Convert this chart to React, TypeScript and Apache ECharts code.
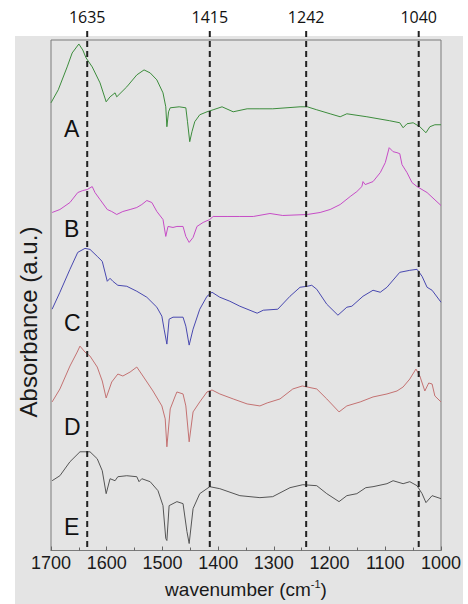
import React, { useEffect, useRef } from "react";
import * as echarts from "echarts";

// Spectra: [wavenumber (cm-1), absorbance (a.u., offset stacked)]
const spectrumA: number[][] = [
  [1700, 449], [1687, 462], [1671, 485], [1662, 499], [1650, 508], [1643, 502], [1637, 494],
  [1626, 485], [1612, 469], [1601, 450], [1594, 455], [1585, 459], [1582, 455], [1564, 465],
  [1546, 477], [1533, 482], [1522, 479], [1510, 472], [1499, 459], [1494, 445], [1492, 425],
  [1489, 440], [1486, 444], [1470, 445], [1458, 444], [1455, 430], [1451, 410], [1447, 420],
  [1442, 430], [1433, 437], [1420, 440], [1409, 442], [1393, 445], [1373, 440], [1348, 443],
  [1325, 443], [1302, 443], [1253, 445], [1240, 445], [1223, 442], [1199, 438], [1181, 435],
  [1169, 438], [1133, 435], [1092, 431], [1074, 429], [1068, 424], [1061, 428], [1050, 429],
  [1038, 425], [1027, 419], [1020, 425], [1011, 427], [1000, 427],
];
const spectrumB: number[][] = [
  [1698, 339], [1684, 342], [1666, 349], [1652, 359], [1643, 361], [1635, 362], [1626, 365],
  [1621, 359], [1612, 352], [1599, 342], [1591, 340], [1582, 337], [1571, 340], [1558, 342],
  [1546, 344], [1537, 347], [1528, 351], [1519, 349], [1510, 340], [1499, 332], [1494, 315],
  [1490, 325], [1481, 324], [1474, 325], [1463, 325], [1458, 315], [1452, 309], [1445, 314],
  [1438, 325], [1427, 329], [1415, 332], [1409, 335], [1384, 335], [1361, 335], [1337, 335],
  [1307, 338], [1284, 336], [1240, 337], [1217, 339], [1199, 342], [1181, 347], [1163, 355],
  [1151, 360], [1142, 365], [1140, 370], [1136, 367], [1122, 370], [1109, 379], [1100, 389],
  [1093, 404], [1086, 400], [1079, 399], [1074, 398], [1070, 387], [1061, 379], [1052, 369],
  [1043, 365], [1025, 359], [1000, 346],
];
const spectrumC: number[][] = [
  [1698, 242], [1684, 259], [1666, 282], [1652, 299], [1639, 303], [1630, 302], [1617, 295],
  [1608, 290], [1599, 270], [1594, 273], [1589, 270], [1580, 266], [1564, 265], [1546, 260],
  [1528, 254], [1510, 244], [1501, 235], [1497, 222], [1492, 207], [1488, 232], [1481, 234],
  [1463, 234], [1458, 225], [1452, 206], [1445, 222], [1433, 242], [1420, 255], [1411, 259],
  [1397, 254], [1379, 250], [1361, 245], [1330, 238], [1319, 241], [1293, 242], [1271, 255],
  [1253, 264], [1240, 265], [1232, 266], [1223, 262], [1205, 247], [1185, 236], [1169, 244],
  [1160, 245], [1140, 255], [1122, 261], [1109, 259], [1097, 264], [1074, 279], [1056, 281],
  [1043, 282], [1034, 275], [1025, 264], [1016, 261], [1000, 249],
];
const spectrumD: number[][] = [
  [1698, 149], [1684, 162], [1666, 185], [1653, 199], [1648, 205], [1639, 199], [1630, 195],
  [1617, 184], [1608, 170], [1601, 153], [1591, 169], [1580, 177], [1571, 175], [1558, 179],
  [1546, 184], [1535, 175], [1517, 160], [1501, 145], [1495, 132], [1492, 104], [1486, 142],
  [1477, 155], [1474, 159], [1463, 157], [1458, 145], [1452, 109], [1445, 139], [1433, 149],
  [1420, 159], [1411, 161], [1397, 157], [1373, 152], [1348, 147], [1325, 145], [1312, 148],
  [1289, 152], [1266, 162], [1249, 165], [1223, 162], [1205, 152], [1183, 139], [1169, 145],
  [1145, 149], [1122, 154], [1097, 157], [1079, 160], [1068, 164], [1056, 172], [1045, 182],
  [1038, 175], [1029, 160], [1022, 168], [1016, 167], [1011, 155], [1000, 149],
];
const spectrumE: number[][] = [
  [1698, 70], [1684, 75], [1666, 89], [1648, 99], [1630, 99], [1617, 92], [1608, 80],
  [1601, 57], [1594, 72], [1585, 70], [1580, 74], [1564, 75], [1546, 74], [1542, 69],
  [1537, 72], [1522, 69], [1508, 60], [1499, 45], [1494, 12], [1492, 10], [1488, 45],
  [1474, 49], [1463, 47], [1456, 19], [1452, 7], [1445, 42], [1433, 57], [1415, 64],
  [1397, 62], [1361, 55], [1325, 53], [1302, 54], [1271, 63], [1248, 66], [1223, 65],
  [1205, 57], [1183, 49], [1169, 55], [1151, 57], [1135, 63], [1122, 64], [1097, 67],
  [1086, 70], [1068, 67], [1056, 69], [1043, 65], [1034, 57], [1027, 48], [1016, 55],
  [1000, 52],
];

const seriesNames = ["A", "B", "C", "D", "E"];
const seriesColors = ["#3c8c3c", "#c64cc6", "#4848b0", "#c47272", "#555555"];
const spectra = [spectrumA, spectrumB, spectrumC, spectrumD, spectrumE];
const peakPositions = [1635, 1415, 1242, 1040];
const letterY = [129, 229, 323, 427, 527];

export default function App() {
  const ref = useRef<HTMLDivElement>(null);
  useEffect(() => {
    if (!ref.current) return;
    const chart = echarts.init(ref.current, undefined, { renderer: "svg" });
    const font = "'Liberation Sans', Arial, sans-serif";
    chart.setOption({
      animation: false,
      grid: {
        left: 51, top: 40, width: 390, height: 512,
        show: true, borderColor: "#7a7a7a", borderWidth: 1,
        backgroundColor: "transparent",
      },
      xAxis: {
        type: "value", min: 1000, max: 1700, interval: 100, inverse: true,
        name: "{n|wavenumber (cm}{s|-1}{n|)}",
        nameLocation: "middle", nameGap: 28,
        nameTextStyle: {
          rich: {
            n: { fontSize: 19, fontFamily: font, color: "#1a1a1a", lineHeight: 22 },
            s: { fontSize: 11, fontFamily: font, color: "#1a1a1a", lineHeight: 11, verticalAlign: "top" },
          },
        },
        axisLine: { show: true, lineStyle: { color: "#7a7a7a", width: 1 } },
        axisTick: { show: true, inside: true, length: 4, lineStyle: { color: "#666" } },
        minorTick: { show: true, splitNumber: 2, length: 3, lineStyle: { color: "#666" } },
        splitLine: { show: false },
        minorSplitLine: { show: false },
        axisLabel: {
          fontSize: 18, fontFamily: font, color: "#1a1a1a", margin: 3,
          formatter: (v: number) => String(v),
        },
      },
      yAxis: { type: "value", min: 0, max: 512, show: false },
      graphic: [
        ...seriesNames.map((n, i) => ({
          type: "text", left: 64, top: letterY[i] - 12,
          style: { text: n, fontSize: 23, fontFamily: font, fill: "#111" },
        })),
        {
          type: "text", x: 28, y: 322, rotation: Math.PI / 2,
          style: {
            text: "Absorbance (a.u.)", fontSize: 24, fontFamily: font, fill: "#1a1a1a",
            align: "center", verticalAlign: "middle",
          },
        },
      ],
      series: [
        ...spectra.map((d, i) => ({
          type: "line", name: seriesNames[i], data: d, showSymbol: false, symbol: "none",
          lineStyle: { color: seriesColors[i], width: 1 }, z: 3,
        })),
        {
          type: "custom", clip: false, z: 5,
          data: peakPositions.map((p) => [p, 0]),
          encode: { x: 0, y: 1 },
          renderItem: (params: any, api: any) => {
            const x = api.coord([api.value(0), 0])[0];
            return {
              type: "group",
              children: [
                {
                  type: "line",
                  shape: { x1: x, y1: 31, x2: x, y2: 548 },
                  style: { stroke: "#222", lineWidth: 2, lineDash: [6, 4] },
                },
                {
                  type: "text", x, y: 17,
                  style: {
                    text: String(api.value(0)), fontSize: 16, fontFamily: "'Open Sans', sans-serif",
                    fill: "#111", align: "center", verticalAlign: "middle",
                  },
                },
              ],
            };
          },
        },
      ],
    });
    return () => chart.dispose();
  }, []);
  return (
    <div style={{ position: "absolute", left: 0, top: 0, width: 468, height: 604, background: "#fff" }}>
      <div style={{ position: "absolute", left: 15, top: 36, width: 448, height: 568, background: "#e4e4e4" }} />
      <div ref={ref} style={{ position: "absolute", left: 0, top: 0, width: 468, height: 604 }} />
    </div>
  );
}
